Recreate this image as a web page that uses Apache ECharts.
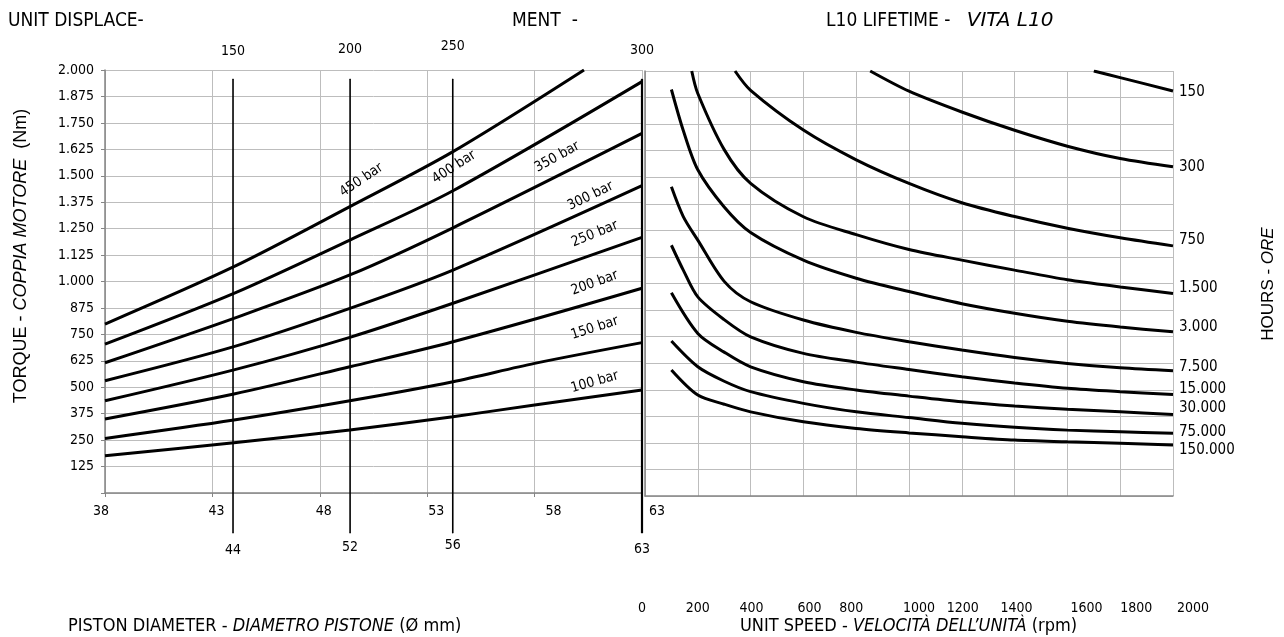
<!DOCTYPE html>
<html><head><meta charset="utf-8">
<script src="https://cdn.jsdelivr.net/npm/echarts@6/dist/echarts.min.js"></script>
<style>html,body{margin:0;padding:0;background:#fff}#c{width:1284px;height:637px}</style>
</head><body><div id="c"></div>
<script>
// ---------------- DATA ----------------
// Left panel: torque (Nm) vs piston diameter (mm), one line per pressure
const pressureNames = ['100 bar','150 bar','200 bar','250 bar','300 bar','350 bar','400 bar','450 bar'];
const bar100 = [[38,176],[44,238],[49.4,298],[54.2,361],[58,416],[63,487]];
const bar150 = [[38,258],[44,345],[49.4,436],[54.2,526],[58,613],[63,711]];
const bar200 = [[38,350],[44,468],[49.4,597],[54.2,715],[63,968]];
const bar250 = [[38,436],[44,582],[49.4,736],[54.2,897],[63,1209]];
const bar300 = [[38,531],[44,692],[49.4,873],[54.2,1054],[63,1453]];
const bar350 = [[38,616],[44,826],[49.4,1031],[54.2,1254],[63,1700]];
const bar400 = [[38,704],[44,944],[49.4,1196],[54.2,1429],[63,1945]];
const bar450 = [[38,799],[44,1070],[49.4,1354],[54.2,1614],[60.3,2000]];
// where each pressure label sits (diameter, torque)
const pressureLabelAt = [[60.8,525],[60.8,780],[60.8,993],[60.8,1225],[60.6,1404],[59.05,1589],[54.25,1541],[49.94,1480]];

// Displacement lines: displacement (cc) and matching piston diameter (mm)
const displacements = [150, 200, 250, 300];
const pistonDiameters = [44, 52, 56, 63];
const displacementOnDiameterScale = [43.96, 49.41, 54.19, 63];

// Right panel: torque (Nm) vs unit speed (rpm), one curve per L10 lifetime (hours)
const hourNames = ['150','300','750','1.500','3.000','7.500','15.000','30.000','75.000','150.000'];
const h150    = [[1700,2000],[1800,1969],[2000,1906]];
const h300    = [[853,2000],[1000,1905],[1200,1807],[1400,1721],[1600,1646],[1800,1588],[2000,1549]];
const h750    = [[341,2000],[400,1909],[600,1722],[800,1582],[1000,1471],[1200,1380],[1400,1315],[1600,1260],[1800,1215],[2000,1177]];
const h1500   = [[177,2000],[200,1894],[300,1630],[400,1471],[600,1314],[800,1230],[1000,1160],[1200,1110],[1400,1063],[1600,1018],[1800,984],[2000,953]];
const h3000   = [[100,1913],[145,1720],[200,1535],[300,1360],[400,1240],[600,1110],[800,1025],[1000,962],[1200,905],[1400,860],[1600,822],[1800,795],[2000,773]];
const h7500   = [[100,1455],[145,1315],[200,1204],[300,1010],[400,914],[600,828],[800,770],[1000,726],[1200,687],[1400,652],[1600,624],[1800,603],[2000,589]];
const h15000  = [[100,1180],[145,1063],[200,937],[300,830],[400,749],[600,671],[800,630],[1000,595],[1200,561],[1400,532],[1600,507],[1800,491],[2000,478]];
const h30000  = [[100,956],[200,765],[300,677],[400,608],[600,538],[800,499],[1000,470],[1200,443],[1400,423],[1600,408],[1800,396],[2000,384]];
const h75000  = [[100,729],[200,608],[300,540],[400,491],[600,436],[800,396],[1000,369],[1200,342],[1400,323],[1600,310],[1800,302],[2000,295]];
const h150000 = [[100,593],[200,475],[300,432],[400,396],[600,349],[800,318],[1000,297],[1200,279],[1400,263],[1600,255],[1800,248],[2000,240]];

// ---------------- STYLE ----------------
const F1 = "'DejaVu Sans Condensed','DejaVu Sans',sans-serif";
const F1I = "'DejaVu Sans',sans-serif";
const F2 = "'Liberation Sans',Arial,sans-serif";
const INK = '#000';
const GRIDC = '#bdbdbd';
const AXC = '#858585';

const pressureSeries = [bar100,bar150,bar200,bar250,bar300,bar350,bar400,bar450];
const pressureRotate = [16,18,20,22,26,29,33,34];
const hourSeries = [h150,h300,h750,h1500,h3000,h7500,h15000,h30000,h75000,h150000];
const hourLabelDy = [1,0,-6,-5,-5,-4,-5,-6,-1,5];
const topLabelDy = [2,0,-3,1];
const bottomLabelDy = [2,-1,-3,1];

// small horizontal nudges of tick labels (as drawn in the reference)
const diaShift = {38:-4,43:4,48:4,53:9,58:19,63:15};
const rpmShift = {0:-3,200:0,400:1,600:6,800:-5,1000:10,1200:1,1400:2,1600:19,1800:16,2000:20};
function shiftedLabel(prefix, shifts){
  const rich = {};
  Object.keys(shifts).forEach(k => {
    const s = shifts[k];
    rich[prefix + k] = {fontFamily:F1, fontSize:14, color:INK,
      padding: s >= 0 ? [0,0,0,2*s] : [0,-2*s,0,0]};
  });
  return {rich, formatter: v => '{' + prefix + v + '|' + v + '}'};
}
const diaLab = shiftedLabel('d', diaShift);
const rpmLab = shiftedLabel('r', rpmShift);

const series = [];
pressureSeries.forEach((d,i) => series.push({
  type:'line', name:pressureNames[i], xAxisIndex:0, yAxisIndex:0, data:d,
  smooth:0.3, showSymbol:false, silent:true, z:3,
  lineStyle:{color:'#000', width:3}
}));
series.push({
  type:'scatter', xAxisIndex:0, yAxisIndex:0, symbol:'circle', symbolSize:0.5, silent:true, z:4,
  itemStyle:{color:'#000', opacity:1},
  data: pressureLabelAt.map((p,i) => ({value:p, label:{show:true, position:'inside',
    formatter:pressureNames[i], rotate:pressureRotate[i], opacity:1,
    fontFamily:F1, fontSize:14, color:'#000', textBorderWidth:0}}))
});
hourSeries.forEach((d,i) => series.push({
  type:'line', name:hourNames[i], xAxisIndex:1, yAxisIndex:1, data:d,
  smooth:0.3, showSymbol:false, silent:true, z:3,
  lineStyle:{color:'#000', width:3},
  endLabel:{show:true, formatter:hourNames[i], distance:6, offset:[0,hourLabelDy[i]],
    fontFamily:F1, fontSize:15, color:INK, align:'left', verticalAlign:'middle'}
}));
displacements.forEach((dv,i) => series.push({
  type:'line', xAxisIndex:2, yAxisIndex:2, silent:true, z:5,
  symbol:'circle', symbolSize:1, itemStyle:{color:'#000'},
  lineStyle:{color:'#000', width: i===3 ? 2.2 : 1.6},
  data:[
    {value:[displacementOnDiameterScale[i],1], label:{show:true, position:'top', distance:22,
      offset:[0,topLabelDy[i]], formatter:String(dv), fontFamily:F1, fontSize:14, color:INK}},
    {value:[displacementOnDiameterScale[i],0], label:{show:true, position:'bottom', distance:8,
      offset:[0,bottomLabelDy[i]], formatter:String(pistonDiameters[i]), fontFamily:F1, fontSize:14, color:INK}}
  ]
}));

const option = {
  animation:false,
  backgroundColor:'#fff',
  grid:[
    {left:105, top:70, width:537, height:423},
    {left:645, top:71, width:528, height:425},
    {left:105, top:79, width:537, height:454}
  ],
  xAxis:[
    {gridIndex:0, type:'value', min:38, max:63, interval:5,
      axisLine:{show:true, lineStyle:{color:AXC, width:1.5}},
      axisTick:{show:true, length:4, lineStyle:{color:AXC}},
      splitLine:{show:true, lineStyle:{color:GRIDC}},
      axisLabel:{margin:11, showMinLabel:true, showMaxLabel:true, formatter:diaLab.formatter, rich:diaLab.rich}},
    {gridIndex:1, type:'value', min:0, max:2000, interval:200,
      axisLine:{show:true, lineStyle:{color:AXC, width:1.5}},
      axisTick:{show:false},
      splitLine:{show:true, lineStyle:{color:GRIDC}},
      axisLabel:{margin:105, showMinLabel:true, showMaxLabel:true, formatter:rpmLab.formatter, rich:rpmLab.rich}},
    {gridIndex:2, type:'value', min:38, max:63, show:false}
  ],
  yAxis:[
    {gridIndex:0, type:'value', min:0, max:2000, interval:125,
      axisLine:{show:true, lineStyle:{color:AXC, width:1.5}},
      axisTick:{show:true, length:4, lineStyle:{color:AXC}},
      splitLine:{show:true, lineStyle:{color:GRIDC}},
      axisLabel:{margin:11, fontFamily:F1, fontSize:14, color:INK, showMaxLabel:true,
        formatter: v => v === 0 ? '' : (v >= 1000 ? (v/1000).toFixed(3) : String(v))}},
    {gridIndex:1, type:'value', min:0, max:2000, interval:125,
      axisLine:{show:true, lineStyle:{color:AXC, width:1.5}},
      axisTick:{show:false}, axisLabel:{show:false},
      splitLine:{show:true, lineStyle:{color:GRIDC}}},
    {gridIndex:2, type:'value', min:0, max:1, show:false}
  ],
  series,
  graphic:[
    {type:'text', x:8, y:21, style:{text:'UNIT DISPLACE-', fontFamily:F1, fontSize:19, fill:INK, verticalAlign:'middle'}},
    {type:'text', x:512, y:21, style:{text:'MENT  -', fontFamily:F1, fontSize:19, fill:INK, verticalAlign:'middle'}},
    {type:'text', x:826, y:21, style:{text:'L10 LIFETIME -   {i|VITA L10}', fontFamily:F1, fontSize:19, fill:INK, verticalAlign:'middle',
      rich:{i:{fontFamily:F1I, fontSize:20, fontStyle:'italic', fill:INK}}}},
    {type:'text', x:68, y:626, style:{text:'PISTON DIAMETER - {i|DIAMETRO PISTONE} (Ø mm)', fontFamily:F1, fontSize:18, fill:INK, verticalAlign:'middle',
      rich:{i:{fontFamily:F1, fontSize:18, fontStyle:'italic', fill:INK}}}},
    {type:'text', x:740, y:626, style:{text:'UNIT SPEED - {i|VELOCITÀ DELL’UNITÀ} (rpm)', fontFamily:F1, fontSize:18, fill:INK, verticalAlign:'middle',
      rich:{i:{fontFamily:F1, fontSize:18, fontStyle:'italic', fill:INK}}}},
    {type:'text', x:21, y:256, rotation:Math.PI/2, style:{text:'TORQUE - {i|COPPIA MOTORE}  (Nm)', fontFamily:F2, fontSize:18, fill:INK, align:'center', verticalAlign:'middle',
      rich:{i:{fontFamily:F2, fontSize:18, fontStyle:'italic', fill:INK}}}},
    {type:'text', x:1268, y:284, rotation:Math.PI/2, style:{text:'HOURS - {i|ORE}', fontFamily:F2, fontSize:17, fill:INK, align:'center', verticalAlign:'middle',
      rich:{i:{fontFamily:F2, fontSize:17, fontStyle:'italic', fill:INK}}}}
  ]
};
const chart = echarts.init(document.getElementById('c'), null, {renderer:'canvas'});
chart.setOption(option);
</script>
</body></html>
